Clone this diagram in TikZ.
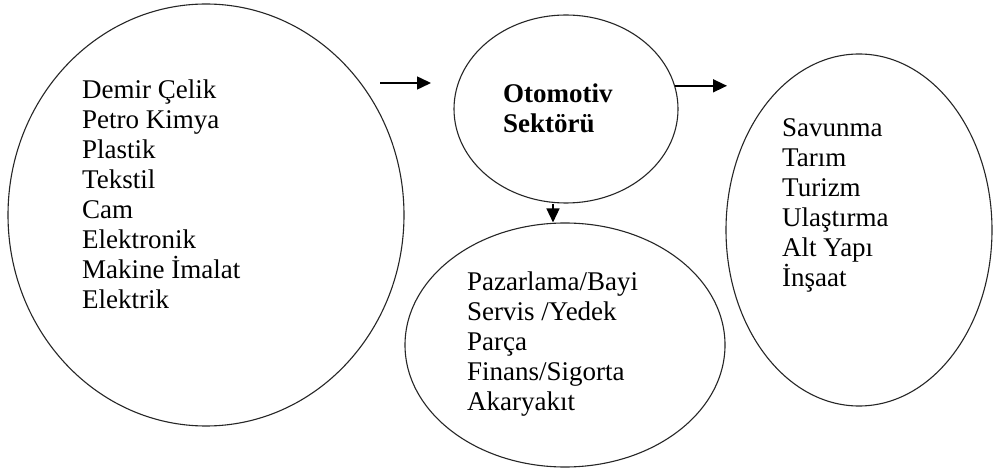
\documentclass[tikz,border=0pt]{standalone}
\usepackage{fontspec}
\setmainfont{Liberation Serif}
\usetikzlibrary{shapes.geometric,arrows.meta}
\begin{document}
\begin{tikzpicture}[x=1pt,y=-1pt,
  bubble/.style={draw=black!85,line width=1.1pt,shape=ellipse,inner sep=0pt},
  listtext/.style={anchor=north west,inner sep=0pt,align=left,font=\fontsize{27}{30}\selectfont},
  flow/.style={line width=1.5pt,-{Triangle[length=14pt,width=13pt]}}]
\useasboundingbox (0,0) rectangle (993,470);
\fill[white] (0,0) rectangle (993,470);
% ellipses
\node[bubble,minimum width=396pt,minimum height=422pt] (left) at (206,215) {};
\node[bubble,minimum width=224pt,minimum height=188pt] (mid) at (566,109) {};
\node[bubble,minimum width=320pt,minimum height=244pt] (bot) at (565,345) {};
\node[bubble,minimum width=266pt,minimum height=352pt] (right) at (859,230) {};
% texts
\node[listtext] (lefttext) at (82,80) {Demir Çelik\\Petro Kimya\\Plastik\\Tekstil\\Cam\\Elektronik\\Makine İmalat\\Elektrik};
\node[listtext,font=\fontsize{27}{30}\selectfont\bfseries] (midtext) at (503,84) {Otomotiv\\Sektörü};
\node[listtext] (bottext) at (467,272) {Pazarlama/Bayi\\Servis /Yedek\\Parça\\Finans/Sigorta\\Akaryakıt};
\node[listtext] (righttext) at (782,118) {Savunma\\Tarım\\Turizm\\Ulaştırma\\Alt Yapı\\İnşaat};
% arrows
\coordinate (a1s) at (380,83);
\coordinate (a1e) at (431,83);
\coordinate (a2e) at (727,83);
\draw[flow] (a1s) -- (a1e);
\draw[flow] (mid.12) -- (a2e |- mid.12);
\draw[flow] ([xshift=-13pt]mid.south) -- ([xshift=-12pt]bot.north);
\end{tikzpicture}
\end{document}
